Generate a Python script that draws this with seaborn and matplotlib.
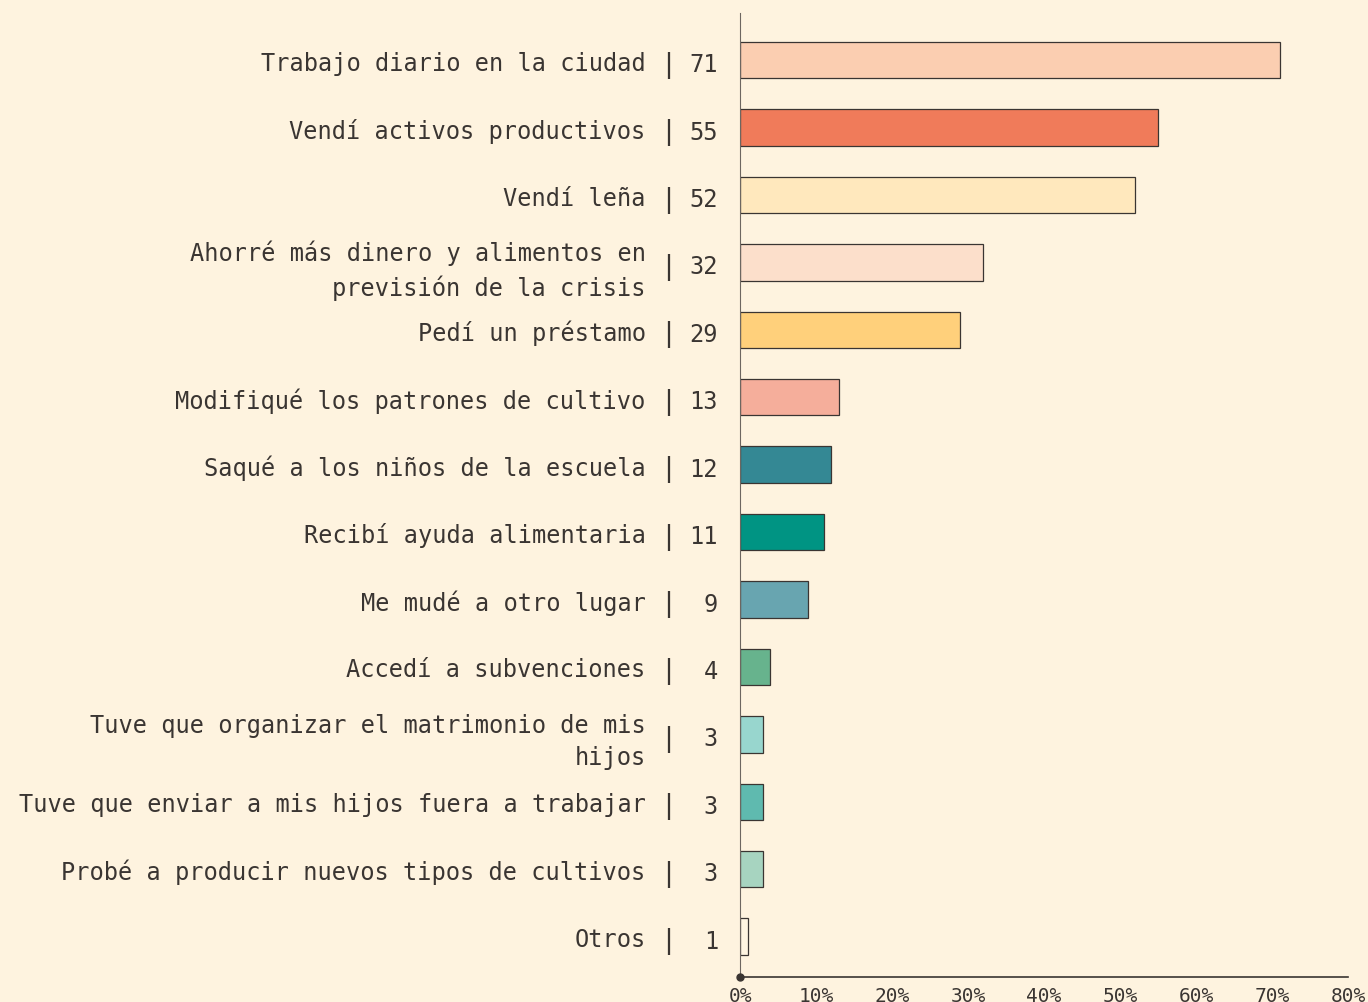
import matplotlib
matplotlib.use("Agg")
import matplotlib.pyplot as plt
import seaborn as sns
import pandas as pd

# data
categories = [
    "Trabajo diario en la ciudad",
    "Vendí activos productivos",
    "Vendí leña",
    "Ahorré más dinero y alimentos en\nprevisión de la crisis",
    "Pedí un préstamo",
    "Modifiqué los patrones de cultivo",
    "Saqué a los niños de la escuela",
    "Recibí ayuda alimentaria",
    "Me mudé a otro lugar",
    "Accedí a subvenciones",
    "Tuve que organizar el matrimonio de mis\nhijos",
    "Tuve que enviar a mis hijos fuera a trabajar",
    "Probé a producir nuevos tipos de cultivos",
    "Otros",
]
values = [71, 55, 52, 32, 29, 13, 12, 11, 9, 4, 3, 3, 3, 1]
colors = [
    "#FBCEB1", "#F07B5A", "#FFE8BD", "#FCDFCB", "#FFD07B", "#F5AE9B",
    "#348894", "#009483", "#68A5B0", "#67B38D", "#98D6CE", "#5FBAAF",
    "#A7D4C0", "#FFF5E1",
]
xticks = [0, 10, 20, 30, 40, 50, 60, 70, 80]

BG = "#FEF3DF"
INK = "#3a3532"

df = pd.DataFrame({"cat": categories, "val": values})

sns.set_style("white")
plt.rcParams["font.family"] = ["DejaVu Sans Mono"]

fig = plt.figure(figsize=(13.68, 10.03), dpi=100, facecolor=BG)
ax = fig.add_axes([740 / 1368, 1 - 978 / 1003, 608 / 1368, (978 - 14) / 1003])
ax.set_facecolor(BG)

sns.barplot(data=df, x="val", y="cat", hue="cat", palette=colors,
            saturation=1, orient="h", width=0.54, edgecolor=INK,
            linewidth=0.9, legend=False, ax=ax)

ax.set_xlim(0, 80)
ax.set_ylim(len(categories) - 1 + 0.6, -0.7)
ax.set_xticks(xticks)
ax.set_xticklabels([f"{t}%" for t in xticks], fontsize=14, color=INK)
ax.tick_params(axis="x", length=5, width=1, color=INK, direction="inout", pad=4)
ax.tick_params(axis="y", length=0, pad=68, labelsize=17, labelcolor=INK)
for lbl in ax.get_yticklabels():
    lbl.set_linespacing(1.45)
    lbl.set_va("center_baseline")
ax.set_xlabel("")
ax.set_ylabel("")

for s in ["top", "right"]:
    ax.spines[s].set_visible(False)
ax.spines["left"].set_color("#6d6660")
ax.spines["left"].set_linewidth(0.8)
ax.spines["bottom"].set_color(INK)
ax.spines["bottom"].set_linewidth(1.2)
ax.plot([0], [len(categories) - 1 + 0.6], "o", color=INK, ms=5,
        clip_on=False, zorder=5)

trans = ax.get_yaxis_transform()
for i, v in enumerate(values):
    ax.text(-0.118, i + 0.06, "|", transform=trans, ha="center", va="center",
            fontsize=19, color=INK)
    ax.text(-0.036, i + 0.06, str(v), transform=trans, ha="right",
            va="center", fontsize=17, color=INK)

fig.savefig("out.png", dpi=100, facecolor=BG)
